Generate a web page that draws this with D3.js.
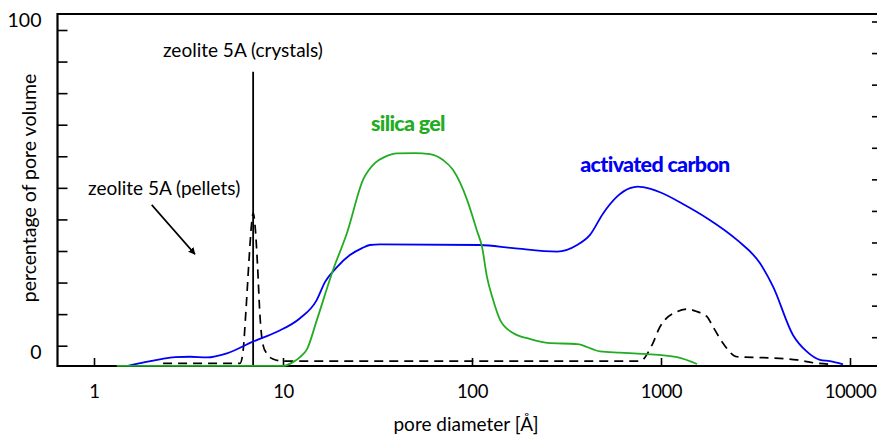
<!DOCTYPE html>
<html>
<head>
<meta charset="utf-8">
<script src="https://cdn.jsdelivr.net/npm/d3@7"></script>
<style>
  html, body { margin: 0; padding: 0; background: #fff; }
  svg { display: block; font-family: Lato, "Open Sans", sans-serif; }
</style>
</head>
<body>
<svg id="chart" width="877" height="442"></svg>
<script>
// Pore size distributions: pore diameter in Ångström, share of pore volume in percent
const silicaDiameter = [1.32, 3.64, 10.0, 11.3, 12.3, 13.4, 15.1, 18.4, 21.8, 26.5, 30.7, 34.6, 40.1, 49.9, 59.9, 70.3, 79.3, 94.2, 106, 113, 120, 128, 141, 165, 203, 250, 360, 476, 607, 804, 1216, 1550];
const silicaPercent  = [-6.4, -6.4, -6.4, -5.2, -3.6, -1.1, 8.1, 24.0, 35.7, 52.5, 57.9, 59.8, 60.9, 61.0, 60.7, 58.8, 55.7, 46.2, 36.6, 31.3, 21.8, 15.4, 8.1, 4.0, 2.1, 0.9, 0.5, -1.8, -2.2, -2.6, -3.6, -5.8];

const carbonDiameter = [1.51, 1.86, 2.23, 2.68, 3.22, 3.96, 5.05, 6.94, 9.29, 12.3, 15.0, 16.7, 19.3, 22.6, 26.2, 28.8, 32.6, 110, 165, 282, 360, 421, 494, 585, 685, 755, 804, 988, 1306, 1751, 2523, 3342, 3917, 4990, 5916, 6934, 7834, 9185];
const carbonPercent  = [-6.4, -5.2, -4.3, -3.6, -3.5, -3.7, -2.4, 1.3, 4.4, 8.7, 14.2, 20.2, 24.9, 28.7, 30.9, 31.9, 32.1, 31.9, 30.9, 29.8, 31.9, 35.1, 41.9, 47.2, 49.9, 50.4, 50.2, 48.6, 44.9, 40.4, 33.5, 26.1, 18.7, 3.4, -1.9, -4.5, -4.9, -5.9];

const pelletDiameter = [2.32, 5.92, 6.14, 6.37, 6.61, 6.81, 6.96, 7.11, 7.33, 7.55, 7.84, 8.23, 8.85, 10.0, 774, 896, 988, 1216, 1374, 1550, 1751, 1884, 2128, 2523, 3467, 5248, 6371, 7834];
const pelletPercent  = [-5.6, -5.6, -2.0, 11.3, 27.1, 38.2, 42.0, 38.2, 25.6, 9.7, 0.2, -2.6, -4.2, -4.9, -4.9, 0.2, 6.0, 10.8, 11.6, 10.8, 9.2, 6.0, 0.8, -3.5, -3.8, -4.5, -5.4, -5.9];

// Crystalline zeolite: a single pore size
const crystalDiameter = 6.95;
const crystalPercent = 86.8;

const diameterTicks = [1, 10, 100, 1000, 10000];
const percentTicks = [0, 10, 20, 30, 40, 50, 60, 70, 80, 90, 100];
const percentLabels = [0, 100];

const seriesLabels = [
  { text: "zeolite 5A (crystals)", diameter: 6.14, percent: 91.3, color: "#000", weight: 400 },
  { text: "zeolite 5A (pellets)",  diameter: 2.35, percent: 47.7, color: "#000", weight: 400 },
  { text: "silica gel",            diameter: 45.8, percent: 68.0, color: "#22ac22", weight: 700 },
  { text: "activated carbon",      diameter: 929,  percent: 54.9, color: "#0000f5", weight: 700 }
];
const pelletArrow = { from: [2.02, 44.6], to: [3.42, 29.0] };

// ---- layout ----
const frame = { left: 57.5, top: 14, right: 880, bottom: 366 };

const svg = d3.select("#chart");

const x = d3.scaleLog().domain([1, 10000]).range([94, 850]);
const y = d3.scaleLinear().domain([0, 100]).range([345.7, 30]);

svg.append("defs").append("marker")
  .attr("id", "arrowhead")
  .attr("viewBox", "0 0 10 10")
  .attr("refX", 9).attr("refY", 5)
  .attr("markerWidth", 7).attr("markerHeight", 7)
  .attr("markerUnits", "userSpaceOnUse")
  .attr("orient", "auto")
  .append("path")
  .attr("d", "M0,0 L10,5 L0,10 Z")
  .attr("fill", "#000");

// axes
const leftAxis = svg.append("g")
  .attr("transform", `translate(${frame.left},0)`)
  .call(d3.axisLeft(y).tickValues(percentTicks)
    .tickSizeInner(-10).tickSizeOuter(0).tickPadding(16)
    .tickFormat(d => percentLabels.includes(d) ? d : ""));
leftAxis.select(".domain").remove();
leftAxis.selectAll(".tick line").attr("stroke", "#000").attr("stroke-width", 1.6);
leftAxis.selectAll(".tick text")
  .attr("font-size", 19.5).attr("font-family", "Lato, 'Open Sans', sans-serif").attr("fill", "#000")
  .attr("dy", d => d === 100 ? "-0.2em" : "0.65em");

const rightAxis = svg.append("g")
  .attr("transform", `translate(${frame.right},-8.5)`)
  .call(d3.axisRight(y).tickValues(percentTicks)
    .tickSizeInner(-8).tickSizeOuter(0).tickFormat(""));
rightAxis.select(".domain").remove();
rightAxis.selectAll(".tick line").attr("stroke", "#000").attr("stroke-width", 1.6);

const bottomAxis = svg.append("g")
  .attr("transform", `translate(0,${frame.bottom})`)
  .call(d3.axisBottom(x).tickValues(diameterTicks)
    .tickSizeInner(-8).tickSizeOuter(0).tickPadding(19)
    .tickFormat(d3.format("d")));
bottomAxis.select(".domain").remove();
bottomAxis.selectAll(".tick line").attr("stroke", "#000").attr("stroke-width", 1.6);
bottomAxis.selectAll(".tick text")
  .attr("font-size", 18.5).attr("letter-spacing", -0.4)
  .attr("font-family", "Lato, 'Open Sans', sans-serif").attr("fill", "#000");

// frame
svg.append("path")
  .attr("d", `M${frame.right},${frame.top} H${frame.left} V${frame.bottom} H${frame.right}`)
  .attr("fill", "none").attr("stroke", "#000").attr("stroke-width", 2.2);

// curves, drawn over the frame
const line = (xs, ys) => d3.line()
  .x((d, i) => x(xs[i]))
  .y((d, i) => y(ys[i]))
  .curve(d3.curveMonotoneX)(xs);

svg.append("path")
  .attr("d", line(pelletDiameter, pelletPercent))
  .attr("fill", "none").attr("stroke", "#000").attr("stroke-width", 1.7)
  .attr("stroke-dasharray", "9,6");

svg.append("line")
  .attr("x1", x(crystalDiameter)).attr("x2", x(crystalDiameter))
  .attr("y1", y(crystalPercent)).attr("y2", frame.bottom)
  .attr("stroke", "#000").attr("stroke-width", 1.8);

svg.append("path")
  .attr("d", line(carbonDiameter, carbonPercent))
  .attr("fill", "none").attr("stroke", "#0000f5").attr("stroke-width", 1.8);

svg.append("path")
  .attr("d", line(silicaDiameter, silicaPercent))
  .attr("fill", "none").attr("stroke", "#22ac22").attr("stroke-width", 1.8);

// axis titles
svg.append("text")
  .attr("x", 466).attr("y", 431)
  .attr("text-anchor", "middle").attr("font-size", 19)
  .text("pore diameter [Å]");

svg.append("text")
  .attr("transform", "translate(36,188) rotate(-90)")
  .attr("text-anchor", "middle").attr("font-size", 19.5)
  .text("percentage of pore volume");

// series labels
svg.selectAll("text.series-label")
  .data(seriesLabels)
  .join("text")
  .attr("class", "series-label")
  .attr("x", d => x(d.diameter))
  .attr("y", d => y(d.percent))
  .attr("text-anchor", "middle")
  .attr("font-size", d => d.weight === 700 ? 21.5 : 19)
  .attr("font-weight", d => d.weight === 700 ? 900 : 400)
  .attr("letter-spacing", d => d.weight === 700 ? -0.7 : 0)
  .attr("fill", d => d.color)
  .text(d => d.text);

svg.append("line")
  .attr("x1", x(pelletArrow.from[0])).attr("y1", y(pelletArrow.from[1]))
  .attr("x2", x(pelletArrow.to[0])).attr("y2", y(pelletArrow.to[1]))
  .attr("stroke", "#000").attr("stroke-width", 1.6)
  .attr("marker-end", "url(#arrowhead)");
</script>
</body>
</html>
